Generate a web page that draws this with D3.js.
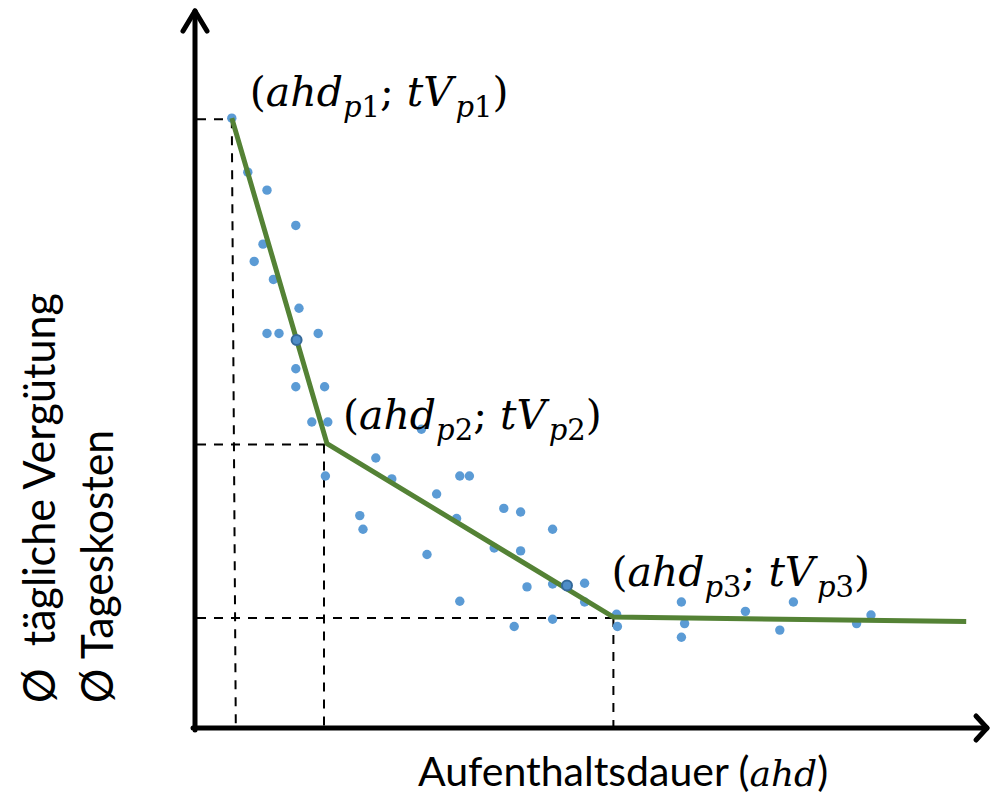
<!DOCTYPE html>
<html lang="de">
<head>
<meta charset="UTF-8">
<title>Aufenthaltsdauer und tägliche Vergütung</title>
<script src="https://d3js.org/d3.v7.min.js"></script>
<style>
  body { margin: 0; background: #fff; }
  text { white-space: pre; }
</style>
</head>
<body>
<script>
// Messpunkte: Aufenthaltsdauer (ahd) und tägliche Vergütung (tV), relative Einheiten 0..100
var ahd = [4.6, 6.6, 9.0, 12.6, 8.5, 7.4, 9.8, 13.0, 9.0, 10.5, 15.4, 12.7, 12.6, 12.6, 16.2, 14.6, 16.6,
           16.3, 22.6, 28.3, 24.6, 33.1, 34.3, 30.2, 20.6, 21.0, 32.7, 38.6, 40.7, 44.7, 29.0, 37.4, 40.7,
           41.5, 44.7, 46.5, 48.7, 48.7, 33.1, 39.9, 44.7, 52.7, 52.8, 60.8, 61.2, 60.8, 68.8, 73.1, 74.8,
           82.7, 84.5];
var tV  = [84.7, 77.2, 74.7, 69.8, 67.2, 64.8, 62.3, 58.3, 54.8, 54.8, 54.8, 53.9, 49.9, 47.4, 47.4, 42.5, 42.5,
           35.0, 37.5, 41.5, 34.6, 35.0, 35.0, 32.5, 29.5, 27.6, 29.1, 30.5, 30.0, 27.6, 24.1, 25.0, 24.6,
           19.6, 20.0, 19.8, 20.1, 17.5, 17.6, 14.1, 15.1, 15.8, 14.1, 17.5, 14.5, 12.6, 16.2, 13.6, 17.5,
           14.5, 15.7];
// die zwei dunkler markierten Punkte (Index)
var marked = [11, 35];

// Knickpunkte der stückweise linearen Kurve (letzter Wert = Ende der Linie)
var knotAhd = [4.6, 16.5, 52.3, 96.4];
var knotTV  = [84.7, 39.5, 15.4, 14.8];
var knotNames = ["1", "2", "3"];

var width = 991, height = 797;
var mathFont = "'DejaVu Serif', 'Liberation Serif', serif";
var sansFont = "Lato, 'Open Sans', sans-serif";

var svg = d3.select("body").append("svg")
    .attr("width", width)
    .attr("height", height);

var x = d3.scaleLinear().domain([0, 100]).range([195, 995]);
var y = d3.scaleLinear().domain([0, 100]).range([728, 8]);

var knots = knotAhd.map(function(d, i) { return {x: d, y: knotTV[i]}; });
var points = ahd.map(function(d, i) { return {x: d, y: tV[i], m: marked.indexOf(i) >= 0}; });

// gestrichelte Hilfslinien zu den Knickpunkten (von Hand gezeichnet, leicht versetzt)
var guideShift = [[0, 4], [-3, -3], [0, 0]];
var guides = svg.append("g")
    .attr("stroke", "#000")
    .attr("stroke-width", 2)
    .attr("stroke-dasharray", "9,8");
knots.slice(0, 3).forEach(function(k, i) {
  guides.append("line")
    .attr("x1", x(0) + 2).attr("x2", x(k.x))
    .attr("y1", y(k.y) + 1).attr("y2", y(k.y) + 1);
  guides.append("line")
    .attr("x1", x(k.x) + guideShift[i][0]).attr("x2", x(k.x) + guideShift[i][1])
    .attr("y1", y(k.y) + 1).attr("y2", y(0) - 2);
});

// Achsen mit Pfeilspitzen
var axes = svg.append("g")
    .attr("stroke", "#000")
    .attr("stroke-width", 5)
    .attr("fill", "none")
    .attr("stroke-linecap", "round")
    .attr("stroke-linejoin", "round");
axes.append("line")
  .attr("x1", x(0)).attr("y1", y(0) + 2)
  .attr("x2", x(0)).attr("y2", 11);
axes.append("polyline")
  .attr("points", [[x(0) - 12, 31], [x(0), 11], [x(0) + 12, 31]].join(" "));
axes.append("line")
  .attr("x1", x(0) - 2).attr("y1", y(0))
  .attr("x2", 987).attr("y2", y(0));
axes.append("polyline")
  .attr("points", [[976, y(0) - 12], [987, y(0)], [976, y(0) + 12]].join(" "));

// Punkte
svg.append("g").selectAll("circle")
  .data(points.filter(function(d) { return !d.m; }))
  .enter().append("circle")
    .attr("cx", function(d) { return x(d.x); })
    .attr("cy", function(d) { return y(d.y); })
    .attr("r", 4.7)
    .attr("fill", "#5b9bd5");

// Regressionslinie
svg.append("path")
  .datum(knots)
  .attr("fill", "none")
  .attr("stroke", "#548235")
  .attr("stroke-width", 5)
  .attr("d", d3.line().x(function(d) { return x(d.x); }).y(function(d) { return y(d.y); }));

svg.append("g").selectAll("circle")
  .data(points.filter(function(d) { return d.m; }))
  .enter().append("circle")
    .attr("cx", function(d) { return x(d.x); })
    .attr("cy", function(d) { return y(d.y); })
    .attr("r", 5)
    .attr("fill", "#4f8dc8")
    .attr("stroke", "#35699a")
    .attr("stroke-width", 2);

// Beschriftung der Knickpunkte (ahd_pN; tV_pN)
var labelOffset = [[18, -12], [16, -15], [-2, -31]];
function mathLabel(k, n, off) {
  var t = svg.append("text")
    .attr("x", x(k.x) + off[0])
    .attr("y", y(k.y) + off[1])
    .attr("font-family", mathFont)
    .attr("font-size", 41)
    .attr("fill", "#000");
  var parts = [["(", 0, 0], ["ahd", 1, 0], ["p", 1, 1], [n, 0, 1], ["; ", 0, 0],
               ["tV", 1, 0], [" ", 0, 1], ["p", 1, 1], [n, 0, 1], [")", 0, 0]];
  var shift = 0;
  parts.forEach(function(p) {
    var target = p[2] ? 11 : 0;
    t.append("tspan")
      .attr("dy", target - shift)
      .attr("font-style", p[1] ? "italic" : "normal")
      .attr("font-size", p[2] ? (p[0] === " " ? 8 : 29) : 41)
      .text(p[0]);
    shift = target;
  });
}
knots.slice(0, 3).forEach(function(k, i) { mathLabel(k, knotNames[i], labelOffset[i]); });

// Achsentitel
var xt = svg.append("text")
  .attr("x", 418).attr("y", 786)
  .attr("font-family", sansFont)
  .attr("font-size", 41)
  .attr("fill", "#000");
xt.append("tspan").text("Aufenthaltsdauer (");
xt.append("tspan").attr("font-family", mathFont).attr("font-style", "italic")
  .attr("font-size", 36).text("ahd");
xt.append("tspan").text(")");

var yTitles = [["Ø  tägliche Vergütung", 55, 410], ["Ø Tageskosten", 113, 273]];
yTitles.forEach(function(d) {
  svg.append("text")
    .attr("transform", "translate(" + d[1] + ",703) rotate(-90)")
    .attr("font-family", sansFont)
    .attr("font-size", 44)
    .attr("textLength", d[2])
    .attr("lengthAdjust", "spacingAndGlyphs")
    .attr("fill", "#000")
    .text(d[0]);
});
</script>
</body>
</html>
